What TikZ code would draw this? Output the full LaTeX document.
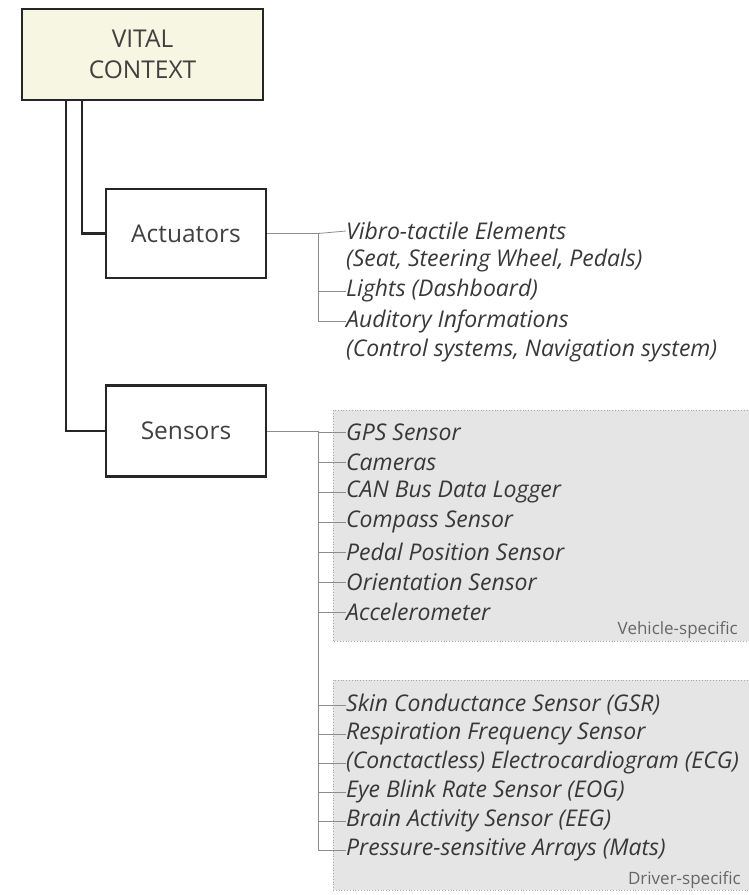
\documentclass[tikz,border=0pt]{standalone}
\usepackage{fontspec}
\setmainfont{Open Sans}
\begin{document}
\begin{tikzpicture}[x=1pt,y=-1pt,
  mainbox/.style={draw=black!85,line width=2.2pt,minimum width=#1,inner sep=0pt,font=\fontsize{24.5}{31}\selectfont,text=black!75,align=center},
  item/.style={anchor=west,inner sep=0pt,font=\fontsize{23}{26}\selectfont\itshape,text=black!78},
  tag/.style={anchor=base east,inner sep=0pt,font=\fontsize{17}{19}\selectfont,text=black!60},
  tree/.style={draw=black!45,line width=0.8pt},
  thick/.style={draw=black!85,line width=2.2pt},
  group/.style={fill=black!10,draw=black!35,dotted,line width=0.8pt}]
\useasboundingbox (0,0) rectangle (749,895);
% groups
\draw[group] (333,410) rectangle (760,641);
\draw[group] (333,680) rectangle (760,890);
% main boxes
\node[mainbox=241pt,minimum height=91pt,fill={rgb,255:red,246;green,246;blue,226}] (vc) at (142.5,54.5) {VITAL\\CONTEXT};
\node[mainbox=160pt,minimum height=89pt] (act) at (186,233.5) {Actuators};
\node[mainbox=160pt,minimum height=91pt] (sen) at (186,431) {Sensors};
\coordinate (t1) at (82,0);
\coordinate (t2) at (66,0);
\draw[thick] (vc.south -| t1) |- (act.west);
\draw[thick] (vc.south -| t2) |- (sen.west);
% actuator items
\node[item] (a1) at (346,231) {Vibro-tactile Elements};
\node[item] (a1b) at (346,261) {(Seat, Steering Wheel, Pedals)};
\node[item] (a2) at (346,291) {Lights (Dashboard)};
\node[item] (a3) at (346,321) {Auditory Informations};
\node[item] (a3b) at (346,351) {(Control systems, Navigation system)};
\coordinate (av) at (318,0);
\draw[tree] (act.east) -- (act.east -| av) |- (a3.west);
\draw[tree] (act.east -| av) -- (a1.west);
\draw[tree] (a2.west -| av) -- (a2.west);
% sensor items
\node[item] (s1) at (346,432) {GPS Sensor};
\node[item] (s2) at (346,462) {Cameras};
\node[item] (s3) at (346,492) {CAN Bus Data Logger};
\node[item] (s4) at (346,522) {Compass Sensor};
\node[item] (s5) at (346,552) {Pedal Position Sensor};
\node[item] (s6) at (346,582) {Orientation Sensor};
\node[item] (s7) at (346,612) {Accelerometer};
\node[tag] (vs) at (738,634) {Vehicle-specific};
\node[item] (d1) at (346,705) {Skin Conductance Sensor (GSR)};
\node[item] (d2) at (346,734) {Respiration Frequency Sensor};
\node[item] (d3) at (346,763) {(Conctactless) Electrocardiogram (ECG)};
\node[item] (d4) at (346,792) {Eye Blink Rate Sensor (EOG)};
\node[item] (d5) at (346,821) {Brain Activity Sensor (EEG)};
\node[item] (d6) at (346,850) {Pressure-sensitive Arrays (Mats)};
\node[tag] (ds) at (741,884) {Driver-specific};
\draw[tree] (sen.east) -- (sen.east -| av) |- (d6.west);
\foreach \n in {s1,s2,s3,s4,s5,s6,s7,d1,d2,d3,d4,d5}
  \draw[tree] (\n.west -| av) -- (\n.west);
\end{tikzpicture}
\end{document}
